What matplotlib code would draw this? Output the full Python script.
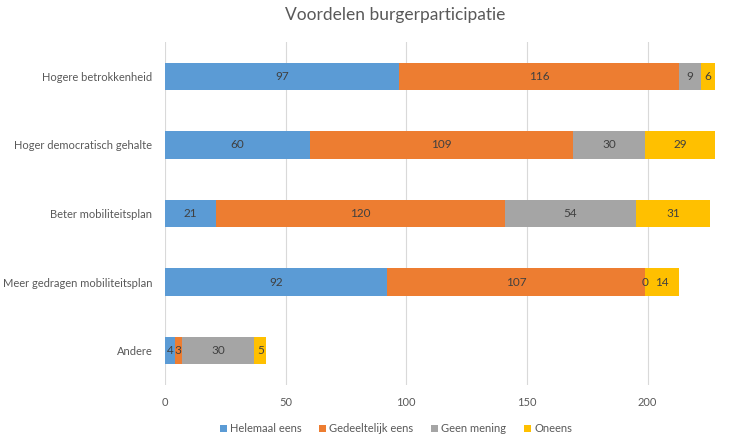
import numpy as np
from matplotlib import pyplot as plt

plt.rcParams['font.family'] = ['Lato', 'DejaVu Sans']

categories = ["Hogere betrokkenheid", "Hoger democratisch gehalte", "Beter mobiliteitsplan",
              "Meer gedragen mobiliteitsplan", "Andere"]
series = ["Helemaal eens", "Gedeeltelijk eens", "Geen mening", "Oneens"]
helemaal = [97, 60, 21, 92, 4]
gedeeltelijk = [116, 109, 120, 107, 3]
geen = [9, 30, 54, 0, 30]
oneens = [6, 29, 31, 14, 5]
colors = ["#5B9BD5", "#ED7D31", "#A5A5A5", "#FFC000"]

values = [helemaal, gedeeltelijk, geen, oneens]

fig = plt.figure(figsize=(7.41, 4.42), dpi=100)
ax = fig.add_axes([165 / 741, 57 / 442, 555 / 741, 343 / 442])

y = np.arange(len(categories))
left = np.zeros(len(categories))
for name, vals, col in zip(series, values, colors):
    bars = ax.barh(y, vals, left=left, height=0.4, color=col, label=name, zorder=3)
    texts = ax.bar_label(bars, labels=[str(v) for v in vals], label_type='center',
                         fontsize=8.5, color='#404040')
    for t in texts:
        t.set_zorder(6)
    left = left + np.array(vals)

ax.set_ylim(len(categories) - 0.5, -0.5)
ax.set_xlim(0, 230)
ax.set_xticks([0, 50, 100, 150, 200])
ax.set_yticks(y)
ax.set_yticklabels(categories)
ax.tick_params(length=0, labelsize=8, colors='#595959')
ax.tick_params(axis='y', pad=9)
ax.tick_params(axis='x', pad=9)
ax.grid(axis='x', color='#D9D9D9', linewidth=0.8, zorder=0)
for s in ax.spines.values():
    s.set_visible(False)

fig.suptitle("Voordelen burgerparticipatie", x=395 / 741, y=0.985, fontsize=12.5, color='#595959')
fig.legend(loc='lower center', bbox_to_anchor=(396 / 741, -0.005), ncol=4, frameon=False,
           fontsize=8, labelcolor='#595959', handlelength=0.6, handleheight=0.6,
           handletextpad=0.3, columnspacing=1.6)

fig.savefig("out.png", dpi=100)
